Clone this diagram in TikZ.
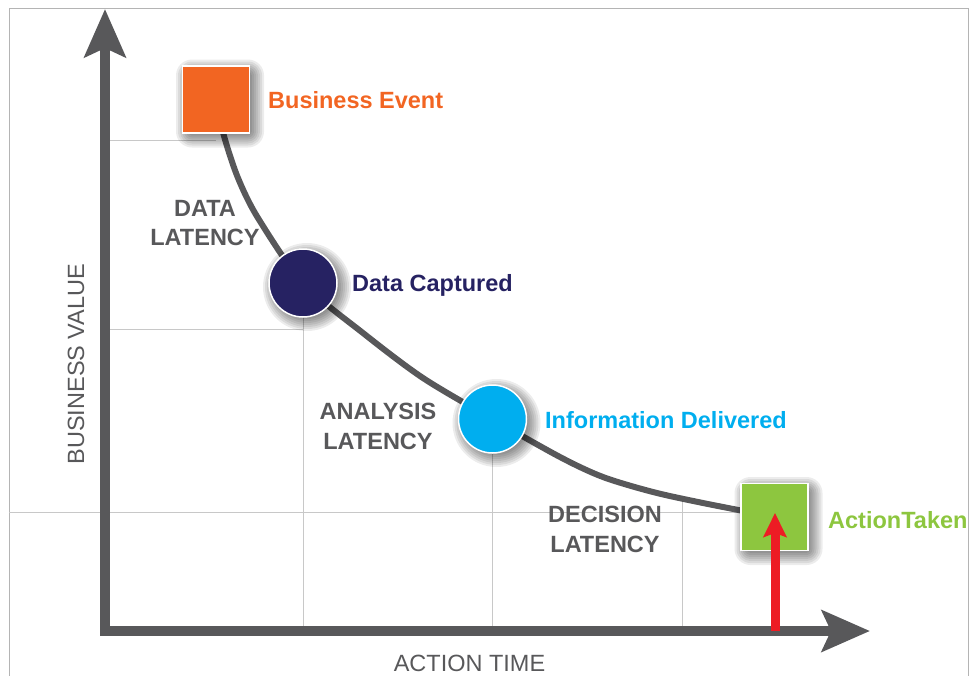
\documentclass[tikz,border=0pt]{standalone}
\usepackage{fontspec}
\setmainfont{Liberation Sans}
\usetikzlibrary{arrows.meta}

\definecolor{axisgray}{HTML}{58585A}
\definecolor{gridgray}{HTML}{C8C8C8}
\definecolor{framegray}{HTML}{B4B4B4}
\definecolor{eventorange}{HTML}{F26522}
\definecolor{capturenavy}{HTML}{262262}
\definecolor{infoblue}{HTML}{00AEEF}
\definecolor{actiongreen}{HTML}{8DC63F}
\definecolor{signalred}{HTML}{ED1C24}

\pgfdeclarelayer{back}
\pgfdeclarelayer{shade}
\pgfsetlayers{back,shade,main}

\tikzset{
  milestone/.style={draw=white, line width=1.5pt, inner sep=0pt},
  squarestone/.style={milestone, rectangle, minimum size=67pt},
  roundstone/.style={milestone, circle, minimum size=68pt},
  softshade/.style={fill=black, opacity=0.075},
  stonelabel/.style={anchor=base west, inner sep=0pt,
    font=\bfseries\fontsize{23.5}{28}\selectfont},
  latency/.style={anchor=north, inner sep=0pt, align=center, text=axisgray,
    font=\bfseries\fontsize{23.5}{29.5}\selectfont},
  axislabel/.style={inner sep=0pt, text=axisgray,
    font=\fontsize{23.5}{28}\selectfont},
  axisline/.style={draw=axisgray, line width=10pt, line join=miter},
  axishead/.tip={Stealth[length=48pt, width=41pt, inset=9pt]},
  gridline/.style={draw=gridgray, line width=1pt},
  frameline/.style={draw=framegray, line width=1pt},
  valuecurve/.style={draw=axisgray, line width=6pt},
  trigger/.style={draw=signalred, line width=9pt,
    -{Stealth[length=24pt, width=23pt, inset=4pt]}},
}

\begin{document}
\begin{tikzpicture}[x=1pt, y=-1pt]
  \useasboundingbox (0,0) rectangle (969,675);

  % milestones along the value curve
  \node[squarestone, fill=eventorange] (be) at (216,99.5) {};
  \node[roundstone, fill=capturenavy] (dc) at (303,283) {};
  \node[roundstone, fill=infoblue] (id) at (492.5,419) {};
  \node[squarestone, fill=actiongreen] (at) at (774.5,517) {};

  % soft shadows under the milestones
  \begin{pgfonlayer}{shade}
    \foreach \k in {0,...,7} {
      \pgfmathsetmacro{\s}{30+2*\k}
      \pgfmathsetmacro{\rc}{2+2*\k}
      \foreach \n in {be,at}
        \fill[softshade, rounded corners=\rc pt]
          ([shift={(4,4)}]\n.center) +(-\s,-\s) rectangle +(\s,\s);
      \foreach \n in {dc,id}
        \fill[softshade] ([shift={(4,4)}]\n.center) circle[radius=\s pt];
    }
  \end{pgfonlayer}

  % axis end points and trigger arrow ends
  \coordinate (ytip) at (105,9);
  \coordinate (origin) at (105,631);
  \coordinate (xtip) at (870,631);
  \coordinate (rbase) at (775,631);
  \coordinate (rtip) at (775,513);

  \begin{pgfonlayer}{back}
    % outer frame
    \draw[frameline] (9,690) -- (9,8) -- (968,8) -- (968,690);
    % guide lines
    \draw[gridline] (110,140) -- (216,140);
    \draw[gridline] (110,329) -- (303,329);
    \draw[gridline] (9,512) -- (774,512);
    \draw[gridline] (303,283) -- (303,626);
    \draw[gridline] (492.5,419) -- (492.5,626);
    \draw[gridline] (682,497) -- (682,626);
    % axes
    \draw[axisline, {axishead}-{axishead}] (ytip) -- (origin) -- (xtip);
    % value decay curve
    \draw[valuecurve] plot[smooth, tension=0.5] coordinates {
      (be.center) (224,136) (238,178) (258,218) (dc.center)
      (363,333) (423,378) (id.center)
      (560,457) (603,477) (653,492) (703,503)
      (at.center)};
  \end{pgfonlayer}

  % action trigger
  \draw[trigger] (rbase) -- (rtip);

  % milestone labels
  \node[stonelabel, text=eventorange] (bel) at (268,108) {Business Event};
  \node[stonelabel, text=capturenavy] (dcl) at (352,291) {Data Captured};
  \node[stonelabel, text=infoblue] (idl) at (545,428) {Information Delivered};
  \node[stonelabel, text=actiongreen] (atl) at (828,528) {ActionTaken};

  % latency labels
  \node[latency] (dlat) at (205,200) {DATA\\LATENCY};
  \node[latency] (alat) at (378,403) {ANALYSIS\\LATENCY};
  \node[latency] (clat) at (605,506) {DECISION\\LATENCY};

  % axis titles
  \node[axislabel, anchor=base, rotate=90] (yl) at (84,364) {BUSINESS VALUE};
  \node[axislabel, anchor=base] (xl) at (469.5,671) {ACTION TIME};
\end{tikzpicture}
\end{document}
